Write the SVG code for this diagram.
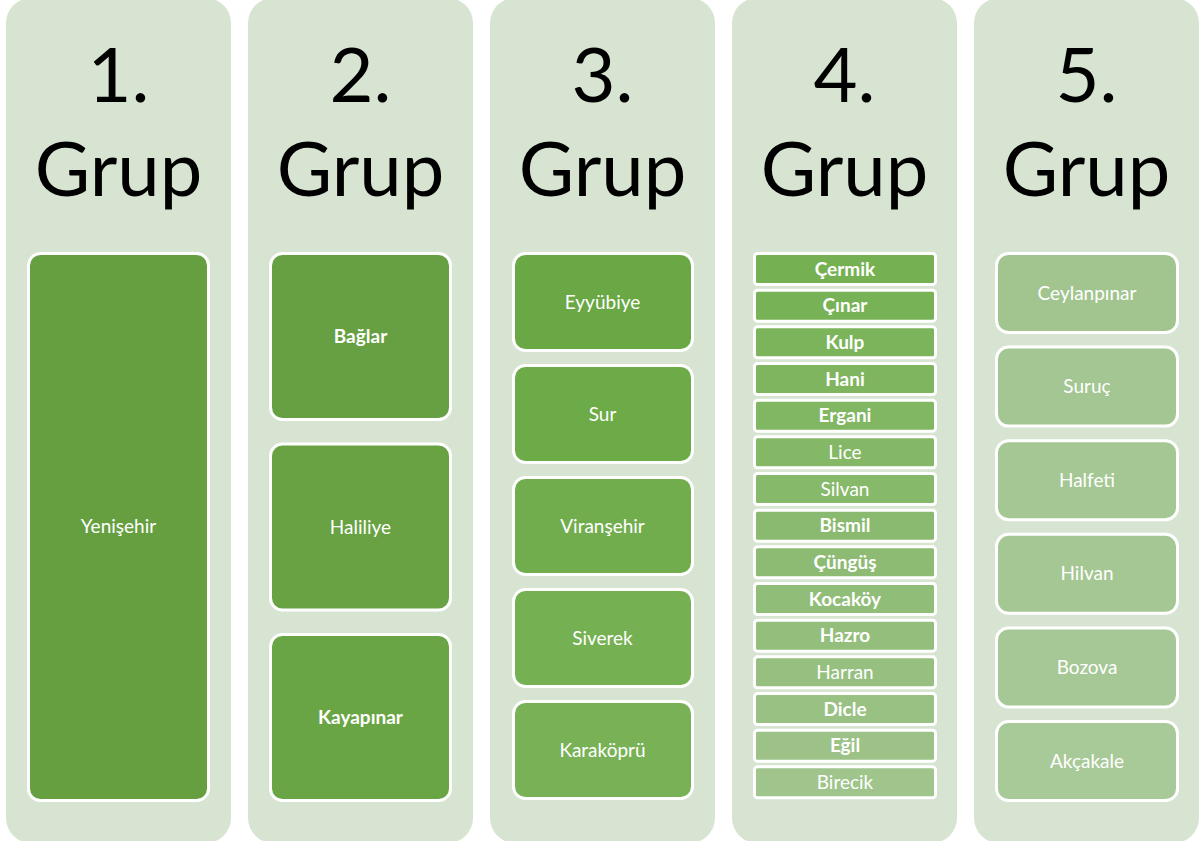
<svg xmlns="http://www.w3.org/2000/svg" width="1203" height="841" viewBox="0 0 1203 841">
<style>
.col{fill:#d7e4d1}
.hd{font-family:Lato,"Open Sans",sans-serif;font-size:76px;fill:#000;text-anchor:middle}
.bx{stroke:#fff;stroke-width:3}
.t{font-family:Lato,"Open Sans",sans-serif;font-size:19px;fill:#fff;text-anchor:middle}
.b{font-weight:bold}
</style>
<rect width="1203" height="841" fill="#fff"/>
<g id="col1">
<rect class="col" x="6" y="-2" width="225" height="845" rx="25"/>
<text class="hd" x="118.5" y="102">1.</text><text class="hd" x="118.5" y="196">Grup</text>
<g id="yenisehir"><rect class="bx" x="28.5" y="253.5" width="180" height="547" rx="12" fill="#669f40"/><text class="t" x="118.5" y="532.5">Yenişehir</text></g>
</g>
<g id="col2">
<rect class="col" x="248" y="-2" width="225" height="845" rx="25"/>
<text class="hd" x="360.5" y="102">2.</text><text class="hd" x="360.5" y="196">Grup</text>
<g id="baglar"><rect class="bx" x="270.5" y="253.5" width="180" height="166" rx="12" fill="#67a042"/><text class="t b" x="360.5" y="343">Bağlar</text></g>
<g id="haliliye"><rect class="bx" x="270.5" y="444" width="180" height="166" rx="12" fill="#68a243"/><text class="t" x="360.5" y="533.5">Haliliye</text></g>
<g id="kayapinar"><rect class="bx" x="270.5" y="634.5" width="180" height="166" rx="12" fill="#6aa545"/><text class="t b" x="360.5" y="724">Kayapınar</text></g>
</g>
<g id="col3">
<rect class="col" x="490" y="-2" width="225" height="845" rx="25"/>
<text class="hd" x="602.5" y="102">3.</text><text class="hd" x="602.5" y="196">Grup</text>
<g id="eyyubiye"><rect class="bx" x="513.5" y="253.5" width="179" height="97" rx="12" fill="#6aa846"/><text class="t" x="602.5" y="308.5">Eyyübiye</text></g>
<g id="sur"><rect class="bx" x="513.5" y="365.5" width="179" height="97" rx="12" fill="#6dab48"/><text class="t" x="602.5" y="420.5">Sur</text></g>
<g id="viransehir"><rect class="bx" x="513.5" y="477.5" width="179" height="97" rx="12" fill="#71ad4d"/><text class="t" x="602.5" y="532.5">Viranşehir</text></g>
<g id="siverek"><rect class="bx" x="513.5" y="589.5" width="179" height="97" rx="12" fill="#75b052"/><text class="t" x="602.5" y="644.5">Siverek</text></g>
<g id="karakopru"><rect class="bx" x="513.5" y="701.5" width="179" height="97" rx="12" fill="#79b256"/><text class="t" x="602.5" y="756.5">Karaköprü</text></g>
</g>
<g id="col4">
<rect class="col" x="732" y="-2" width="225" height="845" rx="25"/>
<text class="hd" x="844.5" y="102">4.</text><text class="hd" x="844.5" y="196">Grup</text>
<g id="cermik"><rect class="bx" x="754.5" y="253.5" width="181" height="31" rx="3" fill="#75b152"/><text class="t b" x="845" y="275.5">Çermik</text></g>
<g id="cinar"><rect class="bx" x="754.5" y="290.17" width="181" height="31" rx="3" fill="#78b256"/><text class="t b" x="845" y="312.17">Çınar</text></g>
<g id="kulp"><rect class="bx" x="754.5" y="326.83" width="181" height="31" rx="3" fill="#7bb45a"/><text class="t b" x="845" y="348.83">Kulp</text></g>
<g id="hani"><rect class="bx" x="754.5" y="363.5" width="181" height="31" rx="3" fill="#7eb55e"/><text class="t b" x="845" y="385.5">Hani</text></g>
<g id="ergani"><rect class="bx" x="754.5" y="400.17" width="181" height="31" rx="3" fill="#81b662"/><text class="t b" x="845" y="422.17">Ergani</text></g>
<g id="lice"><rect class="bx" x="754.5" y="436.83" width="181" height="31" rx="3" fill="#84b867"/><text class="t" x="845" y="458.83">Lice</text></g>
<g id="silvan"><rect class="bx" x="754.5" y="473.5" width="181" height="31" rx="3" fill="#87b96b"/><text class="t" x="845" y="495.5">Silvan</text></g>
<g id="bismil"><rect class="bx" x="754.5" y="510.17" width="181" height="31" rx="3" fill="#8aba6f"/><text class="t b" x="845" y="532.17">Bismil</text></g>
<g id="cungus"><rect class="bx" x="754.5" y="546.83" width="181" height="31" rx="3" fill="#8dbb73"/><text class="t b" x="845" y="568.83">Çüngüş</text></g>
<g id="kocakoy"><rect class="bx" x="754.5" y="583.5" width="181" height="31" rx="3" fill="#90bd77"/><text class="t b" x="845" y="605.5">Kocaköy</text></g>
<g id="hazro"><rect class="bx" x="754.5" y="620.17" width="181" height="31" rx="3" fill="#93be7c"/><text class="t b" x="845" y="642.17">Hazro</text></g>
<g id="harran"><rect class="bx" x="754.5" y="656.83" width="181" height="31" rx="3" fill="#96bf80"/><text class="t" x="845" y="678.83">Harran</text></g>
<g id="dicle"><rect class="bx" x="754.5" y="693.5" width="181" height="31" rx="3" fill="#99c184"/><text class="t b" x="845" y="715.5">Dicle</text></g>
<g id="egil"><rect class="bx" x="754.5" y="730.17" width="181" height="31" rx="3" fill="#9cc288"/><text class="t b" x="845" y="752.17">Eğil</text></g>
<g id="birecik"><rect class="bx" x="754.5" y="766.83" width="181" height="31" rx="3" fill="#9fc48c"/><text class="t" x="845" y="788.83">Birecik</text></g>
</g>
<g id="col5">
<rect class="col" x="974" y="-2" width="225" height="845" rx="25"/>
<text class="hd" x="1086.5" y="102">5.</text><text class="hd" x="1086.5" y="196">Grup</text>
<g id="ceylanpinar"><rect class="bx" x="996.5" y="253.5" width="181" height="79" rx="12" fill="#a2c590"/><text class="t" x="1087" y="299.5">Ceylanpınar</text></g>
<g id="suruc"><rect class="bx" x="996.5" y="347.1" width="181" height="79" rx="12" fill="#a3c692"/><text class="t" x="1087" y="393.1">Suruç</text></g>
<g id="halfeti"><rect class="bx" x="996.5" y="440.7" width="181" height="79" rx="12" fill="#a4c793"/><text class="t" x="1087" y="486.7">Halfeti</text></g>
<g id="hilvan"><rect class="bx" x="996.5" y="534.3" width="181" height="79" rx="12" fill="#a5c794"/><text class="t" x="1087" y="580.3">Hilvan</text></g>
<g id="bozova"><rect class="bx" x="996.5" y="627.9" width="181" height="79" rx="12" fill="#a6c896"/><text class="t" x="1087" y="673.9">Bozova</text></g>
<g id="akcakale"><rect class="bx" x="996.5" y="721.5" width="181" height="79" rx="12" fill="#a8c998"/><text class="t" x="1087" y="767.5">Akçakale</text></g>
</g>
<g id="connectors"/>
</svg>
